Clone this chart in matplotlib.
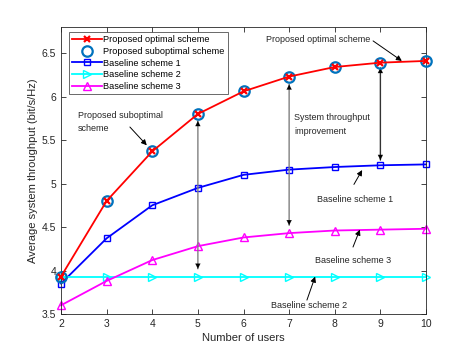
import matplotlib
matplotlib.use("Agg")
import matplotlib.pyplot as plt
import numpy as np

plt.rcParams['font.family'] = ['Liberation Sans', 'DejaVu Sans']

users = [2, 3, 4, 5, 6, 7, 8, 9, 10]
optimal = [3.93, 4.80, 5.37, 5.80, 6.06, 6.23, 6.34, 6.39, 6.41]
suboptimal = [3.93, 4.80, 5.37, 5.80, 6.06, 6.23, 6.34, 6.39, 6.41]
baseline1 = [3.85, 4.37, 4.75, 4.95, 5.10, 5.16, 5.19, 5.21, 5.22]
baseline2 = [3.92, 3.92, 3.92, 3.92, 3.92, 3.92, 3.92, 3.92, 3.92]
baseline3 = [3.60, 3.88, 4.12, 4.28, 4.38, 4.43, 4.46, 4.47, 4.48]

fig = plt.figure(figsize=(4.71, 3.53), dpi=100)
ax = fig.add_axes([0.1295, 0.1105, 0.775, 0.813])

ax.plot(users, optimal, color='red', lw=1.3, marker='x', ms=5, mew=1.6,
        label='Proposed optimal scheme', zorder=5, clip_on=False)
ax.plot(users, suboptimal, ls='none', marker='o', ms=7.5, mfc='none',
        mec='#0072BD', mew=1.6, label='Proposed suboptimal scheme', zorder=4,
        clip_on=False)
ax.plot(users, baseline1, color='blue', lw=1.3, marker='s', ms=4, mfc='none',
        mew=1.0, label='Baseline scheme 1', clip_on=False)
ax.plot(users, baseline2, color='cyan', lw=1.3, marker='>', ms=6, mfc='none',
        mew=1.0, label='Baseline scheme 2', clip_on=False)
ax.plot(users, baseline3, color='magenta', lw=1.3, marker='^', ms=6, mfc='none',
        mew=1.0, label='Baseline scheme 3', clip_on=False)

ax.set_xlim(2, 10)
ax.set_ylim(3.5, 6.8)
ax.set_xticks(users)
ax.set_yticks([3.5, 4, 4.5, 5, 5.5, 6, 6.5])
ax.set_yticklabels(['3.5', '4', '4.5', '5', '5.5', '6', '6.5'])
ax.tick_params(direction='in', top=True, right=True, labelsize=7.5,
               colors='#262626', length=3.5, width=0.6)
for s in ax.spines.values():
    s.set_color('#262626')
    s.set_linewidth(0.6)
ax.set_xlabel('Number of users', fontsize=8, color='#262626', labelpad=3)
ax.set_ylabel('Average system throughput (bit/s/Hz)', fontsize=8,
              color='#262626', labelpad=3)

leg = ax.legend(loc='upper left', fontsize=6.6, frameon=True, fancybox=False,
                edgecolor='#262626', handlelength=3.2, borderpad=0.35,
                labelspacing=0.3, handletextpad=0.2, borderaxespad=0,
                bbox_to_anchor=(0.022, 0.983))
leg.get_frame().set_linewidth(0.6)

# double-headed improvement arrows
for x, y_top, y_bot, c in [(5, 5.72, 4.02, 'gray'), (7, 6.14, 4.52, 'gray'),
                          (9, 6.33, 5.27, '#333333')]:
    ax.annotate('', xy=(x, y_top), xytext=(x, y_bot),
                arrowprops=dict(arrowstyle='-', color=c, lw=1.0,
                                shrinkA=0, shrinkB=0))
    ax.annotate('', xy=(x, y_top), xytext=(x, y_top - 0.01),
                arrowprops=dict(arrowstyle='-|>', color='black', lw=0.1,
                                mutation_scale=9, shrinkA=0, shrinkB=0))
    ax.annotate('', xy=(x, y_bot), xytext=(x, y_bot + 0.01),
                arrowprops=dict(arrowstyle='-|>', color='black', lw=0.1,
                                mutation_scale=9, shrinkA=0, shrinkB=0))

arrow = dict(arrowstyle='-|>', color='black', lw=0.7, mutation_scale=8,
             shrinkA=0, shrinkB=0)
tk = dict(fontsize=6.5, color='#262626')

# pointer arrows: (head, tail)
pointers = [((9.47, 6.41), (8.84, 6.64)),
            ((3.88, 5.44), (3.51, 5.65)),
            ((8.60, 5.155), (8.42, 4.99)),
            ((8.55, 4.47), (8.40, 4.27)),
            ((7.57, 3.93), (7.39, 3.66))]
for head, tail in pointers:
    ax.annotate('', xy=head, xytext=tail, arrowprops=arrow)

ax.text(6.49, 6.66, 'Proposed optimal scheme', va='center', ha='left', **tk)
ax.text(2.37, 5.71, 'Proposed suboptimal\nscheme', va='center', ha='left',
        linespacing=1.6, **tk)
ax.text(7.11, 5.68, 'System throughput\nimprovement', va='center', ha='left',
        linespacing=1.6, **tk)
ax.text(7.61, 4.82, 'Baseline scheme 1', va='center', ha='left', **tk)
ax.text(7.57, 4.11, 'Baseline scheme 3', va='center', ha='left', **tk)
ax.text(6.60, 3.60, 'Baseline scheme 2', va='center', ha='left', **tk)

fig.savefig('out.png', dpi=100)
